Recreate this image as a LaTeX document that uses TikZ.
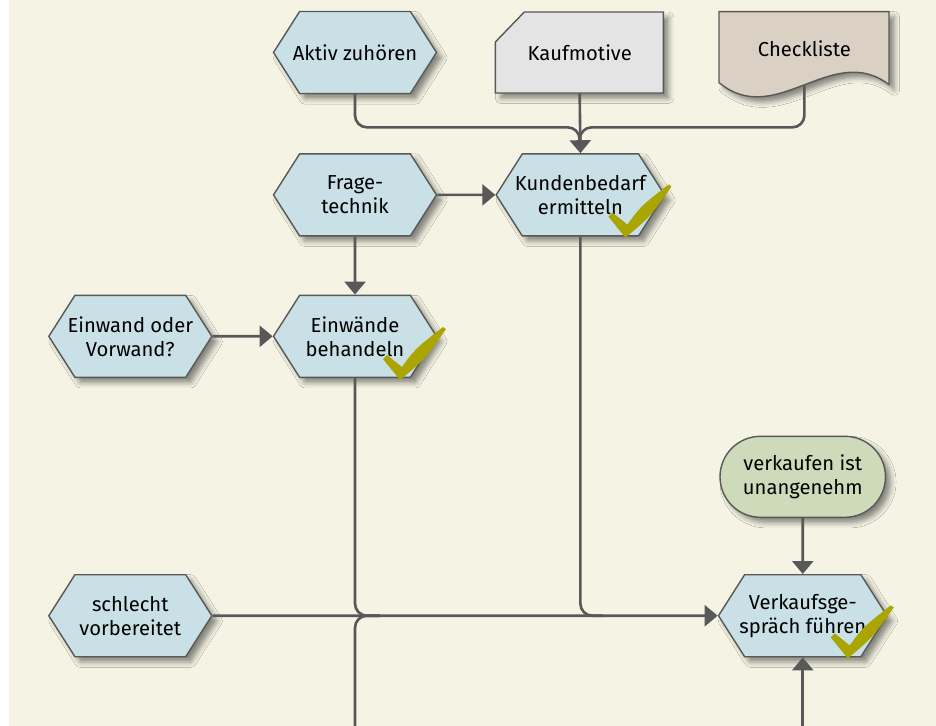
\documentclass[tikz,border=0pt]{standalone}
\usepackage{fontspec}
\setmainfont{Fira Sans}
\usepackage{xcolor}
\usepackage{tikz}
\usetikzlibrary{shapes,arrows,positioning,calc,arrows.meta,shapes.misc,shapes.symbols,shadows.blur}

\definecolor{paper}{RGB}{245,244,228}
\definecolor{hexBlue}{RGB}{201,224,230}
\definecolor{cardGrey}{RGB}{228,228,228}
\definecolor{docTan}{RGB}{218,209,196}
\definecolor{pillGreen}{RGB}{205,219,187}
\definecolor{edgeGrey}{RGB}{88,88,88}
\definecolor{tickOlive}{RGB}{170,165,0}

\tikzset{
  softShadow/.style={
    blur shadow={shadow xshift=3pt, shadow yshift=-3pt,
      shadow blur radius=3pt, shadow opacity=45}
  },
  textOnly/.style={
    align=center,
    inner sep=1pt,
    font=\fontsize{11.5}{13.7}\selectfont
  },
  baseBox/.style={
    textOnly,
    draw=edgeGrey,
    line width=0.8pt,
    softShadow
  },
  hexBox/.style={
    baseBox,
    signal,
    signal to=west and east,
    signal pointer angle=115,
    inner xsep=-0.5cm,
    fill=hexBlue,
    minimum width=3.26cm,
    minimum height=1.64cm
  },
  wideHex/.style={
    hexBox,
    minimum width=3.37cm
  },
  cardBox/.style={
    textOnly,
    minimum width=3.36cm,
    minimum height=1.62cm
  },
  docBox/.style={
    textOnly,
    minimum width=3.4cm,
    minimum height=1.46cm
  },
  outlineShape/.style={
    draw=edgeGrey,
    line width=0.8pt,
    softShadow
  },
  pillBox/.style={
    baseBox,
    rounded rectangle,
    fill=pillGreen,
    minimum width=3.38cm,
    minimum height=1.62cm
  },
  arrowLine/.style={
    -{Triangle[length=0.26cm,width=0.42cm]},
    draw=edgeGrey,
    line width=1.5pt
  },
  plainLine/.style={
    draw=edgeGrey,
    line width=1.5pt,
    rounded corners=0.24cm
  },
  checkMark/.pic={
    \fill[tickOlive] (0,0) -- (-0.34,0.42) -- (-0.26,0.50)
      -- (0.04,0.26)
      .. controls (0.3,0.62) .. (0.86,1.06) -- (0.92,1.02)
      .. controls (0.5,0.42) .. (0,0) -- cycle;
  }
}

\begin{document}
\begin{tikzpicture}[node distance=1.16cm]
  \useasboundingbox (0,0) rectangle (18.72,-14.52);
  \fill[white] (0,0) rectangle (18.72,-14.52);
  \fill[paper] (0.18,0) rectangle (18.72,-14.52);

  % top row
  \node[hexBox] (aktiv) at (7.1,-1.05) {Aktiv zuhören};

  \coordinate[right=1.16cm of aktiv] (kaufW);
  \path[outlineShape, fill=cardGrey] ($(kaufW)+(0.58,0.81)$) -- ++(2.78,0) -- ++(0,-1.62)
    -- ++(-3.36,0) -- ++(0,1.02) -- cycle;
  \node[cardBox, anchor=west] (kauf) at (kaufW) {Kaufmotive};

  \coordinate[right=1.1cm of kauf.north east] (checkNW);
  \path[outlineShape, fill=docTan] (checkNW) -- ++(3.4,0) -- ++(0,-1.46)
    .. controls +(-1.14,0.87) and +(1.14,-0.94) .. ($(checkNW)+(0,-1.42)$) -- cycle;
  \node[docBox, anchor=north west] (check) at (checkNW) {Checkliste};

  % middle
  \node[hexBox, below=1.18cm of aktiv] (frage) {Frage-\\technik};
  \node[wideHex, right=1.16cm of frage] (kund) {Kundenbedarf\\ermitteln};
  \node[hexBox, below=1.16cm of frage] (einw) {Einwände\\behandeln};
  \node[hexBox, left=1.2cm of einw] (einwand) {Einwand oder\\Vorwand?};

  % bottom
  \node[hexBox, below=3.92cm of einwand] (schlecht) {schlecht\\vorbereitet};
  \node[wideHex, right=10.1cm of schlecht] (verk) {Verkaufsge-\\spräch führen};
  \node[pillBox, above=1.12cm of verk] (unang) {verkaufen ist\\unangenehm};

  \pic at ($(kund.south)+(0.9,-0.02)$) {checkMark};
  \pic at ($(einw.south)+(0.9,-0.04)$) {checkMark};
  \pic at ($(verk.south)+(0.9,-0.02)$) {checkMark};

  % connectors
  \coordinate (jtop) at ($(kauf.south)+(0,-0.68)$);
  \coordinate (jlow) at ($(jtop)+(0,-0.3)$);
  \draw[plainLine] (aktiv.south) |- (jtop) -- (jlow);
  \draw[plainLine] (check.south) |- (jtop) -- (jlow);
  \draw[arrowLine] (kauf.south) -- (kund.north);

  \draw[arrowLine] (frage) -- (kund);
  \draw[arrowLine] (frage) -- (einw);
  \draw[arrowLine] (einwand) -- (einw);
  \draw[arrowLine] (unang) -- (verk);
  \draw[arrowLine] (schlecht) -- (verk);

  \coordinate (m1) at ($(einw.south |- verk.west)+(0.5,0)$);
  \coordinate (m2) at ($(kund.south |- verk.west)+(0.45,0)$);
  \coordinate (low1) at (einw.south |- 0,-14.52);
  \coordinate (low2) at (verk.south |- 0,-14.52);
  \draw[plainLine] (einw.south) |- (m1);
  \draw[plainLine] (kund.south) |- (m2);
  \draw[plainLine] (low1) |- (m1);
  \draw[arrowLine] (low2) -- (verk.south);
\end{tikzpicture}
\end{document}
